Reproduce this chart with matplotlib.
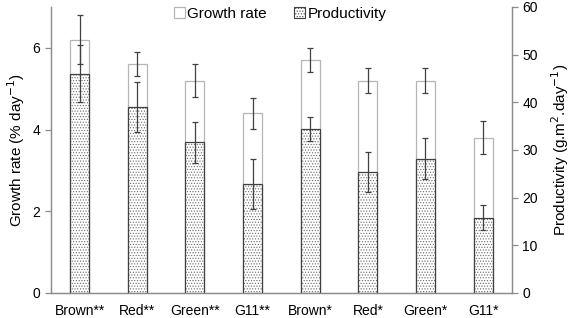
import matplotlib
matplotlib.use("Agg")
import matplotlib.pyplot as plt
import numpy as np

plt.rcParams['font.family'] = ['Liberation Sans', 'DejaVu Sans']
plt.rcParams['hatch.linewidth'] = 0.5

categories = ["Brown**", "Red**", "Green**", "G11**", "Brown*", "Red*", "Green*", "G11*"]
growth = [6.2, 5.6, 5.2, 4.4, 5.7, 5.2, 5.2, 3.8]
growth_err = [0.6, 0.3, 0.4, 0.38, 0.3, 0.3, 0.3, 0.4]
productivity = [46.0, 39.0, 31.6, 22.8, 34.4, 25.4, 28.2, 15.8]
productivity_err = [6.0, 5.3, 4.3, 5.2, 2.6, 4.2, 4.4, 2.7]

fig = plt.figure(figsize=(5.72, 3.18), dpi=100)
ax1 = fig.add_axes([0.089, 0.079, 0.806, 0.899])
ax2 = ax1.twinx()

x = np.arange(len(categories))
w = 0.33
gray = '#8c8c8c'
dark = '#404040'

b1 = ax1.bar(x, growth, w, color='white', edgecolor='#b5b5b5', linewidth=0.9, label='Growth rate', zorder=2)
ax1.errorbar(x, growth, yerr=growth_err, fmt='none', ecolor=dark, elinewidth=0.9, capsize=2.5, capthick=0.9, zorder=3)

# stipple fill (hatch colour lighter) then dark outline
ax2.bar(x, productivity, w, color='white', edgecolor='#6a6a6a', hatch='......', linewidth=0, zorder=2)
ax2.bar(x, productivity, w, color='none', edgecolor=dark, linewidth=0.9, zorder=2.1)
ax2.errorbar(x, productivity, yerr=productivity_err, fmt='none', ecolor=dark, elinewidth=0.9, capsize=2.5, capthick=0.9, zorder=3)

import matplotlib.patches as mpatches
h2 = mpatches.Patch(facecolor='white', edgecolor=dark, hatch='......', linewidth=0.8)

ax1.set_xlim(-0.5, 7.5)
ax1.set_ylim(0, 7)
ax2.set_ylim(0, 60)
ax1.set_yticks([0, 2, 4, 6])
ax2.set_yticks([0, 10, 20, 30, 40, 50, 60])
ax1.set_xticks(x)
ax1.set_xticklabels(categories)

for ax in (ax1, ax2):
    ax.spines['top'].set_visible(False)
    for s in ('left', 'right', 'bottom'):
        ax.spines[s].set_color(gray)
        ax.spines[s].set_linewidth(0.9)
    ax.tick_params(colors=gray, labelcolor='black', labelsize=10, width=0.9, length=4)
ax1.tick_params(axis='x', length=0, pad=8)

ax1.set_ylabel('Growth rate (% day$^{-1}$)', fontsize=11, labelpad=4)
ax2.set_ylabel('Productivity (g.m$^{2}$.day$^{-1}$)', fontsize=11, labelpad=8)

fig.legend([b1, h2], ['Growth rate', 'Productivity'], loc='center', bbox_to_anchor=(0.49, 0.957),
           ncol=2, frameon=False, fontsize=11, handlelength=0.7, handleheight=0.7,
           handletextpad=0.15, columnspacing=1.8)

fig.savefig('out.png', dpi=100)
